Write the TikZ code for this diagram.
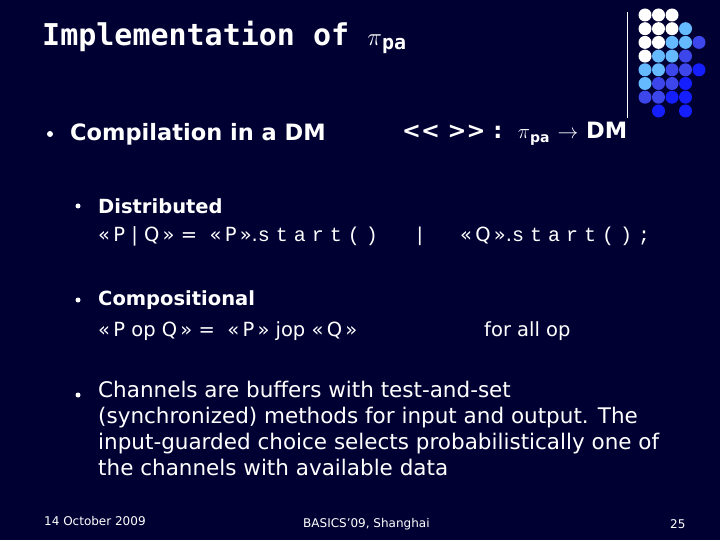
\documentclass[tikz,border=0pt]{standalone}
\usepackage{fontspec}
\setmainfont{DejaVu Sans}
\newfontfamily\titlefont{DejaVu Sans Mono}
\newfontfamily\codefont[LetterSpace=30]{Liberation Mono}
\begin{document}
\begin{tikzpicture}[x=1pt,y=-1pt,
  txt/.style={anchor=west,text=white,inner sep=0},
  dot/.style={circle,inner sep=0,minimum size=13pt},
  bul/.style={circle,fill=white,inner sep=0,minimum size=6pt}]
\fill[fill={rgb,255:red,0;green,0;blue,51}] (0,0) rectangle (720,540);
\useasboundingbox (0,0) rectangle (720,540);
\colorlet{W}{white}
\definecolor{L}{RGB}{100,185,255}
\definecolor{M}{RGB}{60,70,235}
\definecolor{B}{RGB}{20,30,255}
\draw[white,line width=1pt] (627,12) -- (627,118);
\foreach \r/\row in {0/{W,W,W},1/{W,W,W,L},2/{W,W,L,L,M},3/{W,L,L,M},4/{L,L,M,M,B},5/{L,M,M,B},6/{M,M,B,B}}{
  \foreach \c [count=\i from 0] in \row {\node[dot,fill=\c] (d\r\i) at (645+13.5*\i,15+13.7*\r) {};}}
\node[dot,fill=B] (d71) at (658.5,111) {};
\node[dot,fill=B] (d73) at (685.5,111) {};
\node[txt,font=\titlefont\bfseries\fontsize{30}{34}\selectfont] (title) at (42,37) {Implementation of $\pi$\raisebox{-4pt}{\fontsize{20}{24}\selectfont pa}};
\node[bul] (b1) at (50,134) {};
\node[txt,font=\bfseries\fontsize{22.5}{26}\selectfont] (t1) at (70,134) {Compilation in a DM};
\node[txt,font=\bfseries\fontsize{22.5}{26}\selectfont] (t1b) at (402,134) {{<}{<} {>}{>} :\ \ $\pi$\raisebox{-4pt}{\fontsize{14}{16}\selectfont pa} $\rightarrow$ DM};
\node[bul,minimum size=5pt] (b2) at (78,206) {};
\node[txt,font=\bfseries\fontsize{19.5}{22}\selectfont] (t2) at (98,206) {Distributed};
\node[txt,font=\fontsize{19.5}{22}\selectfont] (t2b) at (98,236) {\guillemotleft\,P | Q\,\guillemotright\ = \ \guillemotleft\,P\,\guillemotright.{\codefont\fontsize{20}{22}\selectfont start()\ \ |}};
\node[txt,font=\fontsize{19.5}{22}\selectfont] (t2c) at (460,236) {\guillemotleft\,Q\,\guillemotright.{\codefont\fontsize{20}{22}\selectfont start();}};
\node[bul,minimum size=5pt] (b3) at (78,300) {};
\node[txt,font=\bfseries\fontsize{19.5}{22}\selectfont] (t3) at (98,300) {Compositional};
\node[txt,font=\fontsize{19.5}{22}\selectfont] (t3b) at (98,331) {\guillemotleft\,P op Q\,\guillemotright\ = \ \guillemotleft\,P\,\guillemotright\ jop \guillemotleft\,Q\,\guillemotright};
\node[txt,font=\fontsize{19.5}{22}\selectfont] (t3c) at (484,331) {for all op};
\node[bul,minimum size=5pt] (b4) at (78,395) {};
\node[txt,anchor=north west,font=\fontsize{21.5}{26}\selectfont,align=left] (t4) at (98,381) {Channels are buffers with test-and-set\\(synchronized) methods for input and output. The\\input-guarded choice selects probabilistically one of\\the channels with available data};
\node[txt,font=\fontsize{12}{14}\selectfont] (f1) at (44,521) {14 October 2009};
\node[txt,font=\fontsize{12}{14}\selectfont] (f2) at (303,524) {BASICS'09, Shanghai};
\node[txt,font=\fontsize{12}{14}\selectfont] (f3) at (670,524) {25};
\end{tikzpicture}
\end{document}
